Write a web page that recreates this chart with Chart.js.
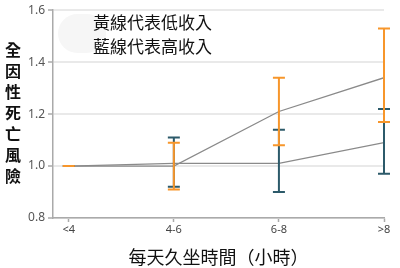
<!DOCTYPE html>
<html><head><meta charset="utf-8">
<script src="https://cdn.jsdelivr.net/npm/chart.js@4/dist/chart.umd.min.js"></script>
<style>
html,body{margin:0;padding:0;background:#fff;}
#wrap{position:relative;width:400px;height:268px;}
canvas{position:absolute;left:0;top:0;}
#ytitle{position:absolute;left:4px;top:39px;width:18px;font:bold 16px "Noto Sans CJK TC";line-height:21px;text-align:center;color:#111;}
#pill{position:absolute;left:58px;top:14px;width:48px;height:39px;border-radius:20px;background:#f6f6f6;}
#legend{position:absolute;left:93px;top:10px;font:17px "Noto Sans CJK TC";line-height:24px;color:#111;white-space:nowrap;}
</style></head>
<body><div id="wrap">
<canvas id="c" width="400" height="268"></canvas>
<div id="pill"></div>
<div id="legend">黃線代表低收入<br>藍線代表高收入</div>
<div id="ytitle">全<br>因<br>性<br>死<br>亡<br>風<br>險</div>
</div>
<script>
const categories = ['<4', '4-6', '6-8', '>8'];
const lowIncome = [1.00, 1.00, 1.21, 1.34];
const lowIncomeLower = [1.00, 0.91, 1.08, 1.17];
const lowIncomeUpper = [1.00, 1.09, 1.34, 1.53];
const highIncome = [1.00, 1.01, 1.01, 1.09];
const highIncomeLower = [1.00, 0.92, 0.90, 0.97];
const highIncomeUpper = [1.00, 1.11, 1.14, 1.22];
const yTicks = [0.8, 1.0, 1.2, 1.4, 1.6];

const orange = '#f7962b';
const teal = '#2c5a6a';

const errorBars = {
  id: 'errorBars',
  afterDatasetsDraw(chart) {
    const ctx = chart.ctx, xs = chart.scales.x, ys = chart.scales.y;
    const sets = [
      [highIncomeLower, highIncomeUpper, teal],
      [lowIncomeLower, lowIncomeUpper, orange]
    ];
    ctx.save();
    ctx.lineWidth = 2;
    sets.forEach(([lo, hi, col]) => {
      ctx.strokeStyle = col;
      categories.forEach((c, i) => {
        const x = xs.getPixelForValue(i);
        const y1 = ys.getPixelForValue(lo[i]);
        const y2 = ys.getPixelForValue(hi[i]);
        ctx.beginPath();
        ctx.moveTo(x, y1); ctx.lineTo(x, y2);
        ctx.moveTo(x - 6, y1); ctx.lineTo(x + 6, y1);
        ctx.moveTo(x - 6, y2); ctx.lineTo(x + 6, y2);
        ctx.stroke();
      });
    });
    ctx.restore();
  }
};

new Chart(document.getElementById('c'), {
  type: 'line',
  data: {
    datasets: [
      { label: '低收入', data: lowIncome.map((v, i) => ({x: i, y: v})), borderColor: '#8a8a8a', borderWidth: 1.3, pointRadius: 0, tension: 0 },
      { label: '高收入', data: highIncome.map((v, i) => ({x: i, y: v})), borderColor: '#8a8a8a', borderWidth: 1.3, pointRadius: 0, tension: 0 }
    ]
  },
  options: {
    responsive: false,
    animation: false,
    layout: { padding: { top: 7, right: 16, left: 0, bottom: 0 } },
    plugins: { legend: { display: false }, tooltip: { enabled: false } },
    scales: {
      x: {
        type: 'linear', min: -0.15, max: 3,
        afterBuildTicks: s => { s.ticks = categories.map((c, i) => ({ value: i })); },
        ticks: { callback: (v) => categories[v], font: { family: 'Noto Sans', size: 11 }, color: '#444', padding: 1, maxRotation: 0 },
        grid: { drawOnChartArea: false, tickLength: 4, tickColor: '#aaa', tickWidth: 1.5 },
        border: { color: '#aaa', width: 1.5 },
        title: { display: true, text: '每天久坐時間（小時）', font: { family: 'Noto Sans CJK TC', size: 18 }, color: '#111', padding: { top: 2, bottom: 0 } },
        afterFit: s => { s.height = 50; }
      },
      y: {
        min: 0.8, max: 1.6,
        afterBuildTicks: s => { s.ticks = yTicks.map(v => ({ value: v })); },
        ticks: { callback: v => v.toFixed(1), font: { family: 'Noto Sans', size: 12 }, color: '#555', padding: 3 },
        grid: { color: '#e9e9e9', lineWidth: 2, tickLength: 5, tickColor: '#aaa', tickWidth: 1.5 },
        border: { color: '#aaa', width: 1.5 },
        afterFit: s => { s.width = 53; }
      }
    }
  },
  plugins: [errorBars]
});
</script>
</body></html>
